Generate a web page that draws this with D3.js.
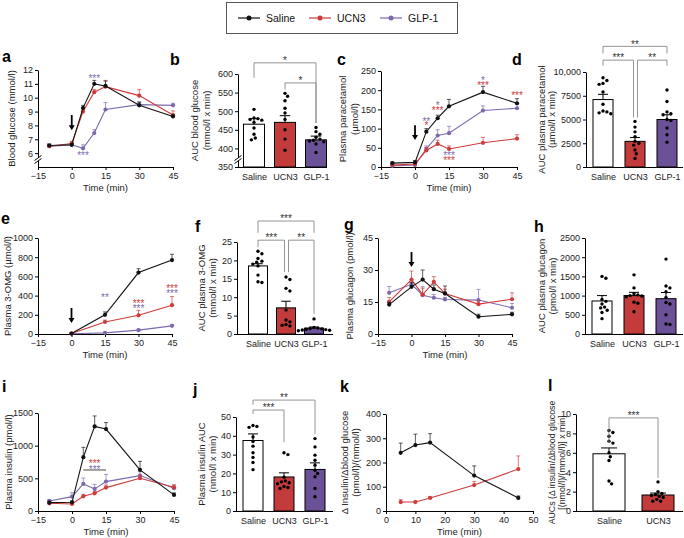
<!DOCTYPE html>
<html><head><meta charset="utf-8">
<script src="https://cdn.jsdelivr.net/npm/d3@7"></script>
<style>body{margin:0;background:#fff}svg{display:block}</style>
</head><body><svg id="chart" width="684" height="538"></svg>
<script>
// ================= DATA =================
const groups = ["Saline", "UCN3", "GLP-1"];
const timeTicks = [-15, 0, 15, 30, 45];
const timesFull = [-10, 0, 5, 10, 15, 30, 45];

// a: blood glucose (mmol/l)
const glucoseSaline = [6.55, 6.6, 9.25, 11.0, 10.85, 9.45, 8.65];
const glucoseSalineSem = [0.1, 0.1, 0.2, 0.25, 0.35, 0.25, 0.1];
const glucoseUCN3 = [6.5, 6.7, 9.0, 10.4, 10.8, 10.15, 8.75];
const glucoseUCN3Sem = [0.15, 0.15, 0.2, 0.2, 0.45, 0.45, 0.3];
const glucoseGLP1 = [6.5, 6.6, 6.35, 7.45, 9.15, 9.5, 9.45];
const glucoseGLP1Sem = [0.15, 0.1, 0.25, 0.25, 0.5, 0.15, 0.15];
const glucoseTicks = [6, 7, 8, 9, 10, 11, 12];
const glucoseStars = [[10, 11.57, "***", "GLP-1"], [5, 6.0, "***", "GLP-1"]];

// b: AUC blood glucose
const aucGlucoseMean = [465, 470, 423];
const aucGlucoseSem = [15, 18, 10];
const aucGlucoseSaline = [505, 482, 480, 478, 476, 470, 455, 438, 428, 423];
const aucGlucoseUCN3 = [548, 540, 528, 508, 495, 478, 450, 425, 395];
const aucGlucoseGLP1 = [456, 445, 438, 430, 425, 422, 418, 412, 389, 420];
const aucGlucoseTicks = [350, 400, 450, 500, 550, 600];
const aucGlucoseSig = [["Saline", "GLP-1", "*"], ["UCN3", "GLP-1", "*"]];

// c: plasma paracetamol (µmol/l)
const paraSaline = [10, 12, 92, 127, 158, 195, 166];
const paraSalineSem = [3, 5, 8, 8, 18, 15, 12];
const paraUCN3 = [5, 8, 43, 60, 47, 63, 74];
const paraUCN3Sem = [3, 4, 8, 10, 8, 14, 10];
const paraGLP1 = [3, 5, 47, 82, 88, 147, 153];
const paraGLP1Sem = [2, 3, 8, 15, 18, 12, 10];
const paraTicks = [0, 50, 100, 150, 200, 250];
const paraStars = [[5, 125, "**", "GLP-1"], [5, 114, "*", "UCN3"], [10, 167, "*", "GLP-1"], [10, 154, "***", "UCN3"],
  [15, 36, "***", "GLP-1"], [15, 23, "***", "UCN3"], [30, 232, "*", "GLP-1"], [30, 219, "***", "UCN3"], [45, 193, "***", "UCN3"]];

// d: AUC plasma paracetamol
const aucParaMean = [7100, 2700, 5000];
const aucParaSem = [550, 400, 500];
const aucParaSaline = [9400, 9100, 8800, 8700, 7900, 6600, 5800, 5700, 5600, 5900];
const aucParaUCN3 = [4800, 4200, 3700, 3200, 2700, 2300, 1800, 1400, 900, 2500];
const aucParaGLP1 = [8100, 6900, 5800, 5600, 5500, 4900, 4100, 3400, 2600, 5000];
const aucParaTicks = [0, 2500, 5000, 7500, 10000];
const aucParaSig = [["Saline", "GLP-1", "**"], ["Saline", "UCN3", "***"], ["UCN3", "GLP-1", "**"]];

// e: plasma 3-OMG (µmol/l)
const timesOmg = [0, 15, 30, 45];
const omgSaline = [5, 200, 640, 770];
const omgSalineSem = [5, 30, 40, 60];
const omgUCN3 = [5, 125, 195, 300];
const omgUCN3Sem = [3, 20, 50, 90];
const omgGLP1 = [3, 12, 40, 85];
const omgGLP1Sem = [2, 5, 10, 15];
const omgTicks = [0, 200, 400, 600, 800, 1000];
const omgStars = [[15, 406, "**", "GLP-1"], [30, 344, "***", "UCN3"], [30, 292, "***", "GLP-1"], [45, 500, "***", "UCN3"], [45, 448, "***", "GLP-1"]];

// f: AUC plasma 3-OMG
const aucOmgMean = [18.5, 7.1, 1.6];
const aucOmgSem = [0.6, 1.8, 0.3];
const aucOmgSaline = [22.5, 21.8, 20.5, 19.8, 19.5, 19.0, 18.5, 16.0, 14.2, 14.0];
const aucOmgUCN3 = [15.5, 14.8, 12.4, 11.7, 6.5, 3.8, 3.3, 2.6, 2.4, 2.2];
const aucOmgGLP1 = [4.1, 1.8, 1.6, 1.5, 1.4, 1.3, 1.2, 1.1, 1.0, 0.9];
const aucOmgTicks = [0, 5, 10, 15, 20, 25];
const aucOmgSig = [["Saline", "GLP-1", "***"], ["Saline", "UCN3", "***"], ["UCN3", "GLP-1", "**"]];

// g: plasma glucagon (pmol/l)
const glucagonSaline = [13.8, 22.1, 25.5, 21, 19, 8.1, 9.2];
const glucagonSalineSem = [1, 2, 4.5, 2, 3.5, 1.2, 1];
const glucagonUCN3 = [15.1, 25.5, 18.5, 24.4, 19, 14, 16.3];
const glucagonUCN3Sem = [2, 4, 3, 2.5, 2, 1.5, 3];
const glucagonGLP1 = [19.3, 23.3, 18.2, 17, 16.2, 15.9, 12.3];
const glucagonGLP1Sem = [3, 2, 4, 1.5, 1, 5, 2];
const glucagonTicks = [0, 15, 30, 45];

// h: AUC plasma glucagon
const aucGlucagonMean = [860, 1000, 920];
const aucGlucagonSem = [140, 85, 160];
const aucGlucagonSaline = [1500, 1450, 850, 780, 700, 680, 560, 900, 620, 400];
const aucGlucagonUCN3 = [1540, 1200, 1050, 1020, 1000, 990, 970, 830, 800, 580];
const aucGlucagonGLP1 = [1950, 1250, 1200, 1100, 950, 820, 780, 500, 260, 250];
const aucGlucagonTicks = [0, 500, 1000, 1500, 2000, 2500];

// i: plasma insulin (pmol/l)
const insulinSaline = [128, 133, 824, 1295, 1254, 630, 246];
const insulinSalineSem = [20, 20, 150, 160, 100, 130, 30];
const insulinUCN3 = [118, 108, 225, 271, 358, 502, 363];
const insulinUCN3Sem = [15, 15, 30, 30, 40, 50, 40];
const insulinGLP1 = [154, 220, 414, 338, 450, 542, 348];
const insulinGLP1Sem = [20, 60, 90, 70, 110, 60, 40];
const insulinTicks = [0, 500, 1000, 1500];
const insulinStars = [[10, 765, "***", "UCN3"], [10, 673, "***", "GLP-1"]];
const insulinStarSpan = [5, 15, 628];

// j: plasma insulin AUC
const aucInsulinMean = [37.5, 18.1, 22.1];
const aucInsulinSem = [3.5, 2.2, 3.5];
const aucInsulinSaline = [45.5, 45, 44.5, 39.4, 37, 34.5, 31, 28.5, 25.8, 22];
const aucInsulinUCN3 = [31, 30, 18, 16, 15.5, 15, 14.5, 13, 12, 12.5];
const aucInsulinGLP1 = [38.5, 34.1, 29.7, 27, 24.4, 21.7, 20, 18.2, 12, 7.6];
const aucInsulinTicks = [0, 10, 20, 30, 40, 50];
const aucInsulinSig = [["Saline", "GLP-1", "**"], ["Saline", "UCN3", "***"]];

// k: Δinsulin/Δblood glucose
const timesRatio = [5, 10, 15, 30, 45];
const ratioSaline = [240, 272, 282, 146, 54];
const ratioSalineSem = [40, 45, 37, 40, 8];
const ratioUCN3 = [37, 37, 54, 107, 173];
const ratioUCN3Sem = [10, 4, 4, 15, 54];
const ratioXTicks = [0, 10, 20, 30, 40, 50];
const ratioYTicks = [0, 100, 200, 300, 400];

// l: AUCs of ratio
const groupsL = ["Saline", "UCN3"];
const aucRatioMean = [5.9, 1.65];
const aucRatioSem = [0.6, 0.2];
const aucRatioSaline = [8.3, 8.1, 7.7, 7.2, 7.0, 6.0, 5.6, 5.2, 3.1, 2.8];
const aucRatioUCN3 = [3.0, 2.0, 1.8, 1.7, 1.6, 1.5, 1.4, 1.2, 1.0, 1.0];
const aucRatioTicks = [0, 2, 4, 6, 8, 10];
const aucRatioSig = [["Saline", "UCN3", "***"]];

// ================= STYLE =================
const FONT = "'Liberation Sans', Arial, Helvetica, sans-serif";
const LINE = { "Saline": "#111111", "UCN3": "#d03a3a", "GLP-1": "#7d6aae" };
const FILL = { "Saline": "#ffffff", "UCN3": "#c43b3b", "GLP-1": "#6b5197" };
const svg = d3.select("#chart");

function styleAxis(g) {
  g.select(".domain").attr("stroke", "#000").attr("stroke-width", 1);
  g.selectAll(".tick line").attr("stroke", "#000");
  g.selectAll(".tick text").attr("fill", "#222").style("font-size", "9px").style("font-family", FONT);
}
function yLabel(lines, xs, yc, fs) {
  lines.forEach((t, i) => svg.append("text")
    .attr("transform", `translate(${xs[i]},${yc}) rotate(-90)`)
    .attr("text-anchor", "middle").attr("dy", "0.35em")
    .style("font-family", FONT).style("font-size", (fs || 9.5) + "px").attr("fill", "#222").text(t));
}
function panelLetter(t, x, y) {
  svg.append("text").attr("x", x).attr("y", y).text(t)
    .style("font-family", FONT).style("font-size", "16px").style("font-weight", "bold").attr("fill", "#000");
}
function axisBreak(ax, yb) {
  svg.append("rect").attr("x", ax - 4).attr("y", yb - 2).attr("width", 8).attr("height", 3).attr("fill", "#fff");
  [yb - 2, yb + 1].forEach(yy => svg.append("line").attr("x1", ax - 3.5).attr("y1", yy + 2.5).attr("x2", ax + 3.5).attr("y2", yy - 2.5)
    .attr("stroke", "#000").attr("stroke-width", 1));
}
function starText(x, y, label, color) {
  svg.append("text").attr("x", x).attr("y", y).attr("dy", "0.57em").attr("text-anchor", "middle")
    .style("font-family", FONT).style("font-size", "10px").attr("fill", color).text(label);
}
// stacked significance stars at one time point are one text with a line per comparison
function starStacks(stars, x, y) {
  d3.group(stars, d => d[0]).forEach(arr => {
    const t = svg.append("text").attr("text-anchor", "middle").style("font-family", FONT).style("font-size", "10px");
    arr.forEach(([tt, v, lab, grp]) => t.append("tspan").attr("x", x(tt)).attr("y", y(v)).attr("dy", "0.57em")
      .attr("fill", LINE[grp]).text(lab));
  });
}

function linePanel(c) {
  const x = d3.scaleLinear().domain(c.xdom).range(c.xr);
  const y = d3.scaleLinear().domain(c.ydom).range(c.yr);
  const gx = svg.append("g").attr("transform", `translate(0,${c.yr[0]})`)
    .call(d3.axisBottom(x).tickValues(c.xticks).tickSize(3).tickSizeOuter(0).tickPadding(3));
  styleAxis(gx);
  const gy = svg.append("g").attr("transform", `translate(${c.xr[0]},0)`)
    .call(d3.axisLeft(y).tickValues(c.yticks).tickSize(3).tickSizeOuter(0).tickPadding(2).tickFormat(d3.format("d")));
  styleAxis(gy);
  if (c.brk) axisBreak(c.xr[0], c.yr[0] - 7);
  svg.append("text").attr("x", (c.xr[0] + c.xr[1]) / 2).attr("y", c.yr[0] + 24).attr("text-anchor", "middle")
    .style("font-family", FONT).style("font-size", "9.5px").attr("fill", "#222").text("Time (min)");
  yLabel(c.ylabel, c.ylabelX, (c.yr[0] + c.yr[1]) / 2);
  const g = svg.append("g");
  c.series.forEach(s => {
    const pts = c.times.map((t, i) => ({ t, v: s.mean[i], e: s.err[i] }));
    const col = LINE[s.name];
    g.selectAll(null).data(pts).join("line")
      .attr("x1", d => x(d.t)).attr("x2", d => x(d.t)).attr("y1", d => y(d.v)).attr("y2", d => y(d.v + d.e))
      .attr("stroke", col).attr("stroke-opacity", 0.75).attr("stroke-width", 0.9);
    g.selectAll(null).data(pts).join("line")
      .attr("x1", d => x(d.t) - 2).attr("x2", d => x(d.t) + 2).attr("y1", d => y(d.v + d.e)).attr("y2", d => y(d.v + d.e))
      .attr("stroke", col).attr("stroke-opacity", 0.75).attr("stroke-width", 0.9);
    g.append("path").datum(pts).attr("fill", "none").attr("stroke", col).attr("stroke-width", 1.1)
      .attr("d", d3.line().x(d => x(d.t)).y(d => y(d.v)));
    g.selectAll(null).data(pts).join("circle").attr("cx", d => x(d.t)).attr("cy", d => y(d.v)).attr("r", 2.1).attr("fill", col);
  });
  if (c.stars) starStacks(c.stars, x, y);
  if (c.arrow) {
    const ax = x(0), y1 = y(c.arrow[0]), y2 = y(c.arrow[1]);
    svg.append("line").attr("x1", ax).attr("x2", ax).attr("y1", y1).attr("y2", y2 - 4).attr("stroke", "#000").attr("stroke-width", 1.8);
    svg.append("path").attr("d", `M${ax - 3},${y2 - 5}L${ax + 3},${y2 - 5}L${ax},${y2}Z`).attr("fill", "#000");
  }
  if (c.span) {
    svg.append("line").attr("x1", x(c.span[0])).attr("x2", x(c.span[1])).attr("y1", y(c.span[2])).attr("y2", y(c.span[2]))
      .attr("stroke", "#333").attr("stroke-width", 0.9);
  }
}

function swarm(vals, yS, r) {
  const placed = [], res = new Array(vals.length);
  const order = vals.map((v, i) => i).sort((a, b) => vals[b] - vals[a]);
  const cands = [0];
  for (let k = 1; k < 30; k++) cands.push(k * 1.3, -k * 1.3);
  order.forEach(i => {
    const yy = yS(vals[i]);
    for (const dx of cands) {
      if (placed.every(p => Math.hypot(p.dx - dx, p.y - yy) >= 2 * r + 0.5)) { res[i] = { dx, y: yy }; placed.push({ dx, y: yy }); break; }
    }
  });
  return res;
}

function barPanel(c) {
  const x = d3.scalePoint().domain(c.cats).range(c.centers);
  const y = d3.scaleLinear().domain(c.ydom).range(c.yr);
  const gx = svg.append("g").attr("transform", `translate(0,${c.yr[0]})`)
    .call(d3.axisBottom(x).tickSize(0).tickPadding(6.5));
  gx.select(".domain").attr("d", `M${c.axisX},0.5H${c.axisEnd}`);
  styleAxis(gx);
  const gy = svg.append("g").attr("transform", `translate(${c.axisX},0)`)
    .call(d3.axisLeft(y).tickValues(c.yticks).tickSize(3).tickSizeOuter(0).tickPadding(2).tickFormat(c.fmt || d3.format("d")));
  styleAxis(gy);
  if (c.brk) axisBreak(c.axisX, c.yr[0] - 7);
  yLabel(c.ylabel, c.ylabelX, (c.yr[0] + c.yr[1]) / 2, c.labelSize);
  const bw = c.bw, base = y(c.ydom[0]);
  c.cats.forEach((cat, i) => {
    const cx = x(cat), top = y(c.means[i]), et = y(c.means[i] + c.sems[i]);
    svg.append("rect").attr("x", cx - bw / 2).attr("y", top).attr("width", bw).attr("height", base - top)
      .attr("fill", FILL[cat]).attr("stroke", "#000").attr("stroke-width", 1);
    svg.append("line").attr("x1", cx).attr("x2", cx).attr("y1", top).attr("y2", et).attr("stroke", "#000");
    svg.append("line").attr("x1", cx - bw * 0.25).attr("x2", cx + bw * 0.25).attr("y1", et).attr("y2", et).attr("stroke", "#000");
    const pos = swarm(c.dots[i], y, 1.7);
    svg.selectAll(null).data(pos).join("circle").attr("cx", d => cx + d.dx).attr("cy", d => d.y).attr("r", 1.7).attr("fill", "#000");
  });
  (c.sig || []).forEach(([a, b, lab], k) => {
    const L = c.sigLayout[k];
    const xa = x(a) + L[3], xb = x(b) + L[4], yl = y(L[0]);
    svg.append("path").attr("d", `M${xa},${y(L[1])}V${yl}H${xb}V${y(L[2])}`).attr("fill", "none").attr("stroke", "#888").attr("stroke-width", 0.9);
    starText((xa + xb) / 2, yl - 4.5, lab, "#333");
  });
}

// ================= PANELS =================
linePanel({ xdom: [-15, 45], xr: [38, 173], ydom: [5, 12], yr: [167, 70], xticks: timeTicks, yticks: glucoseTicks, brk: true,
  times: timesFull, series: [
    { name: "GLP-1", mean: glucoseGLP1, err: glucoseGLP1Sem }, { name: "UCN3", mean: glucoseUCN3, err: glucoseUCN3Sem },
    { name: "Saline", mean: glucoseSaline, err: glucoseSalineSem }],
  stars: glucoseStars, arrow: [8.75, 7.65], ylabel: ["Blood glucose (mmol/l)"], ylabelX: [12] });

barPanel({ cats: groups, centers: [254, 316], axisX: 238, axisEnd: 327, bw: 21, ydom: [350, 600], yr: [167, 74], brk: true,
  yticks: aucGlucoseTicks, means: aucGlucoseMean, sems: aucGlucoseSem, dots: [aucGlucoseSaline, aucGlucoseUCN3, aucGlucoseGLP1],
  sig: aucGlucoseSig, sigLayout: [[630, 590, 468, 0, 0], [576, 558, 468, 0, 0]],
  ylabel: ["AUC blood glucose", "(mmol/l x min)"], ylabelX: [195, 207] });

linePanel({ xdom: [-15, 45], xr: [381, 517], ydom: [0, 250], yr: [167, 71], xticks: timeTicks, yticks: paraTicks,
  times: timesFull, series: [
    { name: "GLP-1", mean: paraGLP1, err: paraGLP1Sem }, { name: "UCN3", mean: paraUCN3, err: paraUCN3Sem },
    { name: "Saline", mean: paraSaline, err: paraSalineSem }],
  stars: paraStars, arrow: [109, 70], ylabel: ["Plasma paracetamol", "(µmol/l)"], ylabelX: [343, 355] });

barPanel({ cats: groups, centers: [603, 667], axisX: 586, axisEnd: 683, bw: 20, ydom: [0, 10000], yr: [167, 72],
  yticks: aucParaTicks, fmt: d => d === 10000 ? "10,000" : String(d),
  means: aucParaMean, sems: aucParaSem, dots: [aucParaSaline, aucParaUCN3, aucParaGLP1],
  sig: aucParaSig, sigLayout: [[12700, 11950, 11950, 0, 0], [11250, 10650, 5200, 0, -1.5], [11250, 5200, 10650, 2.5, 0]],
  ylabel: ["AUC plasma paracetamol", "(µmol/l x min)"], ylabelX: [542, 552] });

linePanel({ xdom: [-15, 45], xr: [38, 172], ydom: [0, 1000], yr: [334, 238], xticks: timeTicks, yticks: omgTicks,
  times: timesOmg, series: [
    { name: "GLP-1", mean: omgGLP1, err: omgGLP1Sem }, { name: "UCN3", mean: omgUCN3, err: omgUCN3Sem },
    { name: "Saline", mean: omgSaline, err: omgSalineSem }],
  stars: omgStars, arrow: [271, 115], ylabel: ["Plasma 3-OMG (µmol/l)"], ylabelX: [8] });

barPanel({ cats: groups, centers: [258, 314], axisX: 237, axisEnd: 333, bw: 19, ydom: [0, 25], yr: [334, 242],
  yticks: aucOmgTicks, means: aucOmgMean, sems: aucOmgSem, dots: [aucOmgSaline, aucOmgUCN3, aucOmgGLP1],
  sig: aucOmgSig, sigLayout: [[30.7, 27.5, 27.5, 0, 0], [25.5, 23.6, 16.8, 0, -1.5], [25.5, 16.8, 5.5, 2.5, 0]],
  ylabel: ["AUC plasma 3-OMG", "(mmol/l x min)"], ylabelX: [202, 213] });

linePanel({ xdom: [-15, 45], xr: [378, 512], ydom: [0, 45], yr: [334, 238], xticks: timeTicks, yticks: glucagonTicks,
  times: timesFull, series: [
    { name: "GLP-1", mean: glucagonGLP1, err: glucagonGLP1Sem }, { name: "UCN3", mean: glucagonUCN3, err: glucagonUCN3Sem },
    { name: "Saline", mean: glucagonSaline, err: glucagonSalineSem }],
  arrow: [38.4, 31.4], ylabel: ["Plasma glucagon (pmol/l)"], ylabelX: [350] });

barPanel({ cats: groups, centers: [602, 666], axisX: 585, axisEnd: 683, bw: 20, ydom: [0, 2500], yr: [334, 238],
  yticks: aucGlucagonTicks, means: aucGlucagonMean, sems: aucGlucagonSem, dots: [aucGlucagonSaline, aucGlucagonUCN3, aucGlucagonGLP1],
  ylabel: ["AUC plasma glucagon", "(pmol/l x min)"], ylabelX: [542, 553] });

linePanel({ xdom: [-15, 45], xr: [38, 174], ydom: [0, 1500], yr: [511, 413], xticks: timeTicks, yticks: insulinTicks,
  times: timesFull, series: [
    { name: "GLP-1", mean: insulinGLP1, err: insulinGLP1Sem }, { name: "UCN3", mean: insulinUCN3, err: insulinUCN3Sem },
    { name: "Saline", mean: insulinSaline, err: insulinSalineSem }],
  stars: insulinStars, span: insulinStarSpan, ylabel: ["Plasma insulin (pmol/l)"], ylabelX: [9] });

barPanel({ cats: groups, centers: [253, 315], axisX: 236, axisEnd: 333, bw: 20, ydom: [0, 50], yr: [511, 417],
  yticks: aucInsulinTicks, means: aucInsulinMean, sems: aucInsulinSem, dots: [aucInsulinSaline, aucInsulinUCN3, aucInsulinGLP1],
  sig: aucInsulinSig, sigLayout: [[59, 56.5, 41, 0, 0], [53.7, 51.6, 36.7, 0, 0]],
  ylabel: ["Plasma insulin AUC", "(nmol/l x min)"], ylabelX: [202, 213] });

linePanel({ xdom: [0, 50], xr: [386, 533], ydom: [0, 400], yr: [511, 414], xticks: ratioXTicks, yticks: ratioYTicks,
  times: timesRatio, series: [
    { name: "UCN3", mean: ratioUCN3, err: ratioUCN3Sem }, { name: "Saline", mean: ratioSaline, err: ratioSalineSem }],
  ylabel: ["Δ Insulin/Δblood glucose", "(pmol/l)/(mmol/l)"], ylabelX: [345, 356] });

barPanel({ cats: groupsL, centers: [609, 658], axisX: 576, axisEnd: 683, bw: 32, ydom: [0, 10], yr: [511, 414],
  yticks: aucRatioTicks, means: aucRatioMean, sems: aucRatioSem, dots: [aucRatioSaline, aucRatioUCN3],
  sig: aucRatioSig, sigLayout: [[9.6, 7.0, 3.4, 0, 0]], labelSize: 8.8,
  ylabel: ["AUCs (Δ insulin/Δblood glucose", "[(nmol/l)/(mmol/l)] x min]"], ylabelX: [552, 562] });

// panel letters
[["a", 2, 62], ["b", 170, 65], ["c", 337, 65], ["d", 512, 65], ["e", 1, 224], ["f", 195, 232], ["g", 344, 230], ["h", 534, 232],
 ["i", 2, 392], ["j", 193, 395], ["k", 340, 392], ["l", 548, 391]].forEach(d => panelLetter(...d));

// legend
svg.append("rect").attr("x", 226.5).attr("y", 2.5).attr("width", 231).attr("height", 31).attr("fill", "#fff").attr("stroke", "#555");
const legX = d3.scalePoint().domain(groups).range([238, 380]);
groups.forEach(gname => {
  const lx = legX(gname);
  svg.append("line").attr("x1", lx).attr("x2", lx + 22).attr("y1", 18).attr("y2", 18).attr("stroke", LINE[gname]).attr("stroke-width", 1.2);
  svg.append("circle").attr("cx", lx + 11).attr("cy", 18).attr("r", 2.5).attr("fill", LINE[gname]);
  svg.append("text").attr("x", lx + 28).attr("y", 18).attr("dy", "0.35em").text(gname)
    .style("font-family", FONT).style("font-size", "10.5px").attr("fill", "#111");
});
</script></body></html>
